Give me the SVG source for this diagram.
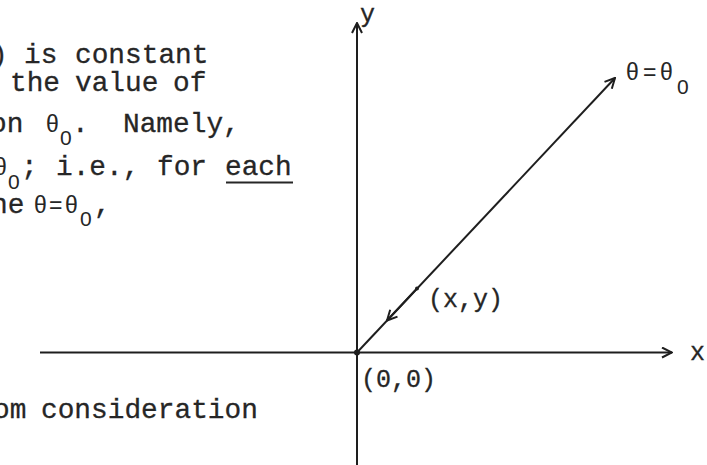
<svg xmlns="http://www.w3.org/2000/svg" width="707" height="465" viewBox="0 0 707 465">
<defs>
<style>
.body{font-family:"Liberation Mono","DejaVu Sans Mono",monospace;font-size:27.8px;fill:#262626;stroke:#262626;stroke-width:0.3}
.lab{font-family:"Liberation Mono","DejaVu Sans Mono",monospace;font-size:25px;fill:#262626;stroke:#262626;stroke-width:0.3}
.th{font-family:"Liberation Sans","DejaVu Sans",sans-serif;font-size:23px;fill:#262626}
.sub{font-family:"Liberation Sans","DejaVu Sans",sans-serif;font-size:21px;fill:#262626}
.ln{stroke:#1e1e1e;stroke-width:2;fill:none}
</style>
<marker id="arr" viewBox="0 0 12 12" refX="11" refY="6" markerWidth="12" markerHeight="12" markerUnits="userSpaceOnUse" orient="auto">
<path d="M1,1 L11,6 L1,11" fill="none" stroke="#1e1e1e" stroke-width="2"/>
</marker>
</defs>
<rect width="707" height="465" fill="#ffffff"/>

<g id="text-block">
<text class="body" y="63"><tspan x="-9">)</tspan><tspan x="24">is</tspan><tspan x="75">constant</tspan></text>
<text class="body" y="91"><tspan x="10">the</tspan><tspan x="75">value</tspan><tspan x="173">of</tspan></text>
<text class="body" y="132"><tspan x="-10">on</tspan></text>
<text class="th" x="46" y="132">θ</text>
<text class="sub" x="60" y="145">0</text>
<text class="body" y="132"><tspan x="72">.</tspan><tspan x="123">Namely,</tspan></text>
<text class="th" x="-6" y="175">θ</text>
<text class="sub" x="8" y="189">0</text>
<text class="body" y="175"><tspan x="21">;</tspan><tspan x="56">i.e.,</tspan><tspan x="157">for</tspan><tspan x="225">each</tspan></text>
<line x1="226" y1="182.5" x2="293" y2="182.5" stroke="#262626" stroke-width="2"/>
<text class="body" y="213"><tspan x="-9">he</tspan></text>
<text class="th" y="213"><tspan x="34">θ</tspan><tspan x="49">=</tspan><tspan x="65">θ</tspan></text>
<text class="sub" x="80" y="226">0</text>
<text class="body" x="94" y="213">,</text>
<text class="body" y="418"><tspan x="-7">om</tspan><tspan x="41">consideration</tspan></text>
</g>

<g id="connectors">
<line id="y-axis" class="ln" x1="357" y1="465" x2="357" y2="23" marker-end="url(#arr)"/>
<line id="x-axis" class="ln" x1="40" y1="352.5" x2="672" y2="352.5" marker-end="url(#arr)"/>
<line id="ray" class="ln" x1="357" y1="352.5" x2="615" y2="78" marker-end="url(#arr)"/>
<line id="ray-arrow" class="ln" x1="417" y1="288.5" x2="387" y2="320.5" marker-end="url(#arr)"/>
</g>

<g id="origin">
<circle cx="357" cy="352.5" r="3" fill="#1e1e1e"/>
<text class="lab" x="361" y="387">(0,0)</text>
</g>
<g id="point">
<circle cx="417" cy="288.5" r="2" fill="#1e1e1e"/>
<text class="lab" x="428" y="307">(x,y)</text>
</g>
<g id="x-label"><text class="lab" x="690" y="360">x</text></g>
<g id="y-label"><text class="lab" x="360" y="22">y</text></g>
<g id="ray-label">
<text class="th" y="80"><tspan x="626">θ</tspan><tspan x="643">=</tspan><tspan x="660">θ</tspan></text>
<text class="sub" x="677" y="94">0</text>
</g>
</svg>
